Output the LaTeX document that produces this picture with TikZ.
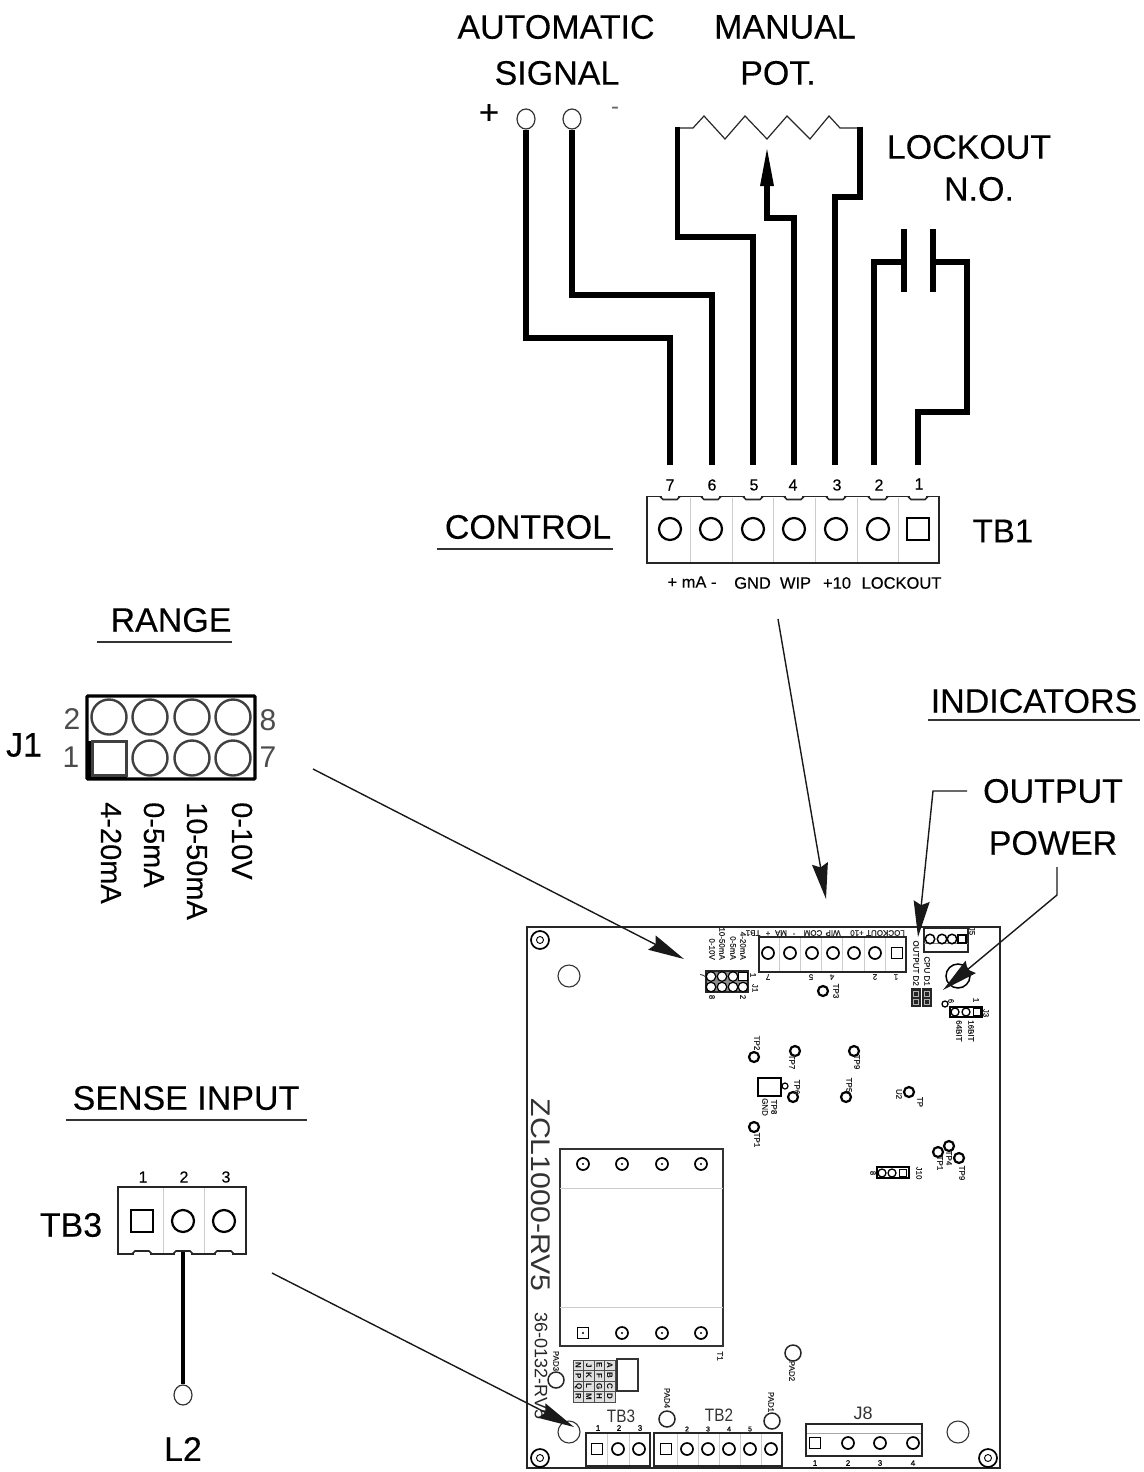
\documentclass[tikz,border=0pt]{standalone}
\usepackage{fontspec}
\usepackage{graphicx}
\setmainfont{Liberation Sans}
\newfontfamily\heavy[FakeBold=0.25]{Liberation Sans}
\newfontfamily\heavysm[FakeBold=0.5]{Liberation Sans}
\usetikzlibrary{arrows.meta}
\newcommand{\fsz}[1]{\fontsize{#1}{#1}\selectfont}
\newcommand{\notchmark}[3]{%
  \draw[white,line width=2pt] (#1-8,#2) -- (#1+8,#2);
  \draw[line width=1.6pt,black!85] (#1-10,#2) -- (#1-7,#2+#3) -- (#1+7,#2+#3) -- (#1+10,#2);}
\tikzset{
  biglab/.style={inner sep=0pt,font=\heavy\fsz{34}},
  midlab/.style={inner sep=0pt,font=\heavy\fsz{16.5}},
  numlab/.style={inner sep=0pt,font=\heavy\fsz{16}},
  jlab/.style={inner sep=0pt,font=\fsz{30},text=black!70},
  wire/.style={line width=5.2pt,miter limit=10},
  thinwire/.style={line width=1.2pt,black!85},
  leader/.style={line width=1.4pt,black!90,-{Stealth[length=36pt,width=16pt,inset=4pt]}},
  underl/.style={line width=1.3pt,black!80},
  rpin/.style={circle,draw,line width=2.2pt,minimum size=22pt,inner sep=0pt},
  spin/.style={rectangle,draw,line width=2.2pt,minimum size=22pt,inner sep=0pt},
  brpin/.style={circle,draw,line width=1.7pt,minimum size=12pt,inner sep=0pt},
  bspin/.style={rectangle,draw,line width=1.7pt,minimum size=11pt,inner sep=0pt},
  jpin/.style={circle,draw=black!75,line width=2.4pt,minimum size=35pt,inner sep=0pt},
  tpp/.style={circle,draw,line width=2.2pt,minimum size=10pt,inner sep=0pt},
  pad/.style={circle,draw=black!85,line width=1.5pt,minimum size=16pt,inner sep=0pt},
  hole/.style={circle,draw=black!80,line width=1.1pt,minimum size=22pt,inner sep=0pt},
  term/.style={ellipse,draw=black!80,line width=1.2pt,minimum width=18pt,minimum height=20pt,inner sep=0pt},
  pcb/.style={inner sep=0pt,font=\heavysm\fsz{8},rotate=-90,text=black!85},
  pcbr/.style={inner sep=0pt,font=\heavysm\fsz{8},rotate=180,text=black!85},
  block/.style={line width=1.8pt,black!85},
  div/.style={line width=.6pt,black!20},
}
\usetikzlibrary{shapes.geometric}
\begin{document}
\begin{tikzpicture}[x=1pt,y=-1pt]
\useasboundingbox (0,0) rectangle (1143,1472);
% --- Top labels
\node[biglab] (autoa) at (556,27) {AUTOMATIC};
\node[biglab] (autob) at (557,73) {SIGNAL};
\node[biglab] (mana) at (785,27) {MANUAL};
\node[biglab] (manb) at (778,73) {POT.};
\node[biglab] (locka) at (969,147) {LOCKOUT};
\node[biglab] (lockb) at (979,189) {N.O.};
\node[inner sep=0pt,font=\heavysm\fsz{34}] (plus) at (489,114) {+};
\node[inner sep=0pt,font=\fsz{24},text=black!60] (minus) at (615,111) {-};
% --- terminals of signal
\node[term] (sigp) at (526,119) {};
\node[term] (sigm) at (572,119) {};
\coordinate (w7) at (670,465);
\coordinate (w6) at (712,465);
\coordinate (w5) at (753,465);
\coordinate (w4) at (794,465);
\coordinate (w3) at (835,465);
\coordinate (w2) at (874,465);
\coordinate (w1) at (918,465);
\draw[wire] (sigp.south) -- (526,338) -- (670,338) -- (w7);
\draw[wire] (sigm.south) -- (572,295) -- (712,295) -- (w6);
% --- pot
\coordinate (potl) at (677,128);
\coordinate (potr) at (860,128);
\coordinate (wipt) at (767,149);
\draw[thinwire] (potl) -- (693,128) -- (704,116) -- (725,139) -- (745,116) -- (767,139) -- (787,116) -- (810,139) -- (829,116) -- (840,128) -- (potr);
\draw[wire] (677.3,126.5) -- (677.3,237) -- (753,237) -- (w5);
\draw[wire] (860,126.5) -- (860,197) -- (835,197) -- (w3);
\draw[wire] (w4) -- (794,218) -- (767,218) -- (767,186);
\fill (767,186) ++(-7,0) -- (wipt) -- (774,186) -- cycle;
% --- contact
\coordinate (cl) at (904,262);
\coordinate (cr) at (933,262);
\draw[line width=5.4pt] (904,229) -- (904,292);
\draw[line width=5.4pt] (933,229) -- (933,292);
\draw[wire] (cl) -- (874,262) -- (w2);
\draw[wire] (cr) -- (967,262) -- (967,412) -- (918,412) -- (w1);
% --- TB1
\node[biglab] (ctl) at (528,527) {CONTROL};
\draw[underl] (437,549) -- (613,549);
\node[biglab,font=\heavy\fsz{33}] (tbonel) at (1003,531) {TB1};
\draw[block] (647,496.5) rectangle (939,563);
\foreach \x in {690,732,773,815,857,898} \draw[div] (\x,498) -- (\x,562);
\foreach \x/\n/\nx in {670/7/670,711/6/712,753/5/754,794/4/793,836/3/837,878/2/879} {
  \node[rpin] (tb\n) at (\x,529) {};
  \node[numlab] (tbn\n) at (\nx,485) {\n};
  \notchmark{\x}{496.5}{3}
}
\node[spin] (tb1) at (918,529) {};
\node[numlab] (tbn1) at (919,484) {1};
\notchmark{918}{496.5}{3}
\node[midlab] (c1) at (692,582) {+ mA -};
\node[midlab] (c2) at (752.5,583) {GND};
\node[midlab] (c3) at (795.5,583) {WIP};
\node[midlab] (c4) at (837,583) {+10};
\node[midlab] (c5) at (901.5,583) {LOCKOUT};
% --- RANGE
\node[biglab] (rng) at (171,620) {RANGE};
\draw[underl] (97,642) -- (232,642);
\node[biglab] (jone) at (24,745) {J1};
\draw[line width=3.4pt,rounded corners=1pt] (87,696) rectangle (255,779);
\foreach \x/\n in {109/a,150/b,192/c,233/d} \node[jpin] (jt\n) at (\x,717) {};
\foreach \x/\n in {150/b,192/c,233/d} \node[jpin] (jb\n) at (\x,758) {};
\node[rectangle,draw=black!75,line width=2.4pt,minimum size=34pt,inner sep=0pt] (jba) at (109.5,758.5) {};
\draw[line width=3.6pt] (88,778.5) -- (127,778.5);
\draw[line width=3.6pt] (89,741) -- (89,779);
\node[jlab] (j2) at (72,719) {2};
\node[jlab] (j1) at (71,757) {1};
\node[jlab] (j8) at (268,720) {8};
\node[jlab] (j7) at (268,757) {7};
\foreach \x/\t/\n in {111/4-20mA/a,154/0-5mA/b,197/10-50mA/c,242/0-10V/d}
  \node[inner sep=0pt,font=\heavy\fsz{29},rotate=-90,anchor=west] (jr\n) at (\x,802) {\t};
% --- SENSE INPUT
\node[biglab] (sns) at (186,1098) {SENSE INPUT};
\draw[underl] (66,1120) -- (307,1120);
\node[biglab] (tbthree) at (71,1225) {TB3};
\draw[block] (118,1187) rectangle (246,1254);
\foreach \x in {163,204} \draw[div] (\x,1188) -- (\x,1253);
\node[spin] (s1) at (142,1221) {};
\node[rpin] (s2) at (183,1221) {};
\node[rpin] (s3) at (224,1221) {};
\node[numlab] (sn1) at (143,1177) {1};
\node[numlab] (sn2) at (184,1177) {2};
\node[numlab] (sn3) at (226,1177) {3};
\foreach \x in {142,183,224} {\notchmark{\x}{1254}{-3}}
\node[term] (ltwo) at (183,1395) {};
\coordinate (stb) at (183,1252);
\draw[line width=3.8pt] (stb) -- (ltwo.north);
\node[biglab] (ltwol) at (183,1449) {L2};
% --- INDICATORS
\node[biglab] (ind) at (1034,701) {INDICATORS};
\draw[underl] (928,720) -- (1140,720);
\node[biglab] (outl) at (1053,791) {OUTPUT};
\node[biglab] (powl) at (1053,843) {POWER};
% --- Board
\draw[line width=1.7pt,black!85] (527,927) rectangle (1000,1468);
\foreach \x/\y/\n in {540/940/a,540/1458/b,988/1458/c} {
  \node[circle,draw,line width=1.7pt,minimum size=18pt,inner sep=0pt] (mh\n) at (\x,\y) {};
  \node[circle,draw,line width=.9pt,minimum size=7pt,inner sep=0pt] (mi\n) at (mh\n) {};
}
\node[hole] (ha) at (569,976) {};
\node[hole] (hb) at (569,1432) {};
\node[hole] (hc) at (958,1432) {};
\node[inner sep=0pt,rotate=-90,font=\fsz{27},text=black!80] (zcl) at (541,1195) {\scalebox{1.12}[1]{ZCL1000-RV5}};
\node[inner sep=0pt,rotate=-90,font=\fsz{18},text=black!85] (rev) at (541,1366) {36-0132-RV5};
% T1
\draw[line width=1.4pt,black!80] (560,1149) rectangle (723,1346);
\draw[div] (560,1188) -- (723,1188);
\draw[div] (560,1307) -- (723,1307);
\foreach \x/\n in {583/a,622/b,662/c,701/d} {
  \node[brpin] (tt\n) at (\x,1164) {};
  \fill (\x,1164) circle (1.2pt);
}
\foreach \x/\n in {622/b,662/c,701/d} {
  \node[brpin] (tu\n) at (\x,1333) {};
  \fill (\x,1333) circle (1.2pt);
}
\node[bspin] (tua) at (583,1333) {};
\fill (583,1333) circle (1.2pt);
\node[pcb] (tone) at (720,1356) {T1};
% Board TB1
\draw[block,line width=1.2pt] (759,937) rectangle (906,972);
\foreach \x in {779,800,821,842,864,885} \draw[div] (\x,938) -- (\x,971);
\foreach \x/\n in {768/7,790/6,812/5,833/4,854/3,875/2} \node[brpin] (bt\n) at (\x,953) {};
\node[bspin] (bt1) at (897,953) {};
\foreach \x/\t/\n in {885.5/LOCKOUT/a,857/+10/b,833/WIP/c,813/COM/d,794/-/e,781/MA/f,768/+/g,753/TB1/h}
  \node[pcbr] (bl\n) at (\x,933) {\t};
\foreach \x/\t in {768/7,811/5,832/4,875/2,896/1}
  \node[pcbr] (bn\t) at (\x,977) {\t};
% board J1
\draw[line width=1.5pt,black!85,fill=black!45] (706,971) rectangle (748,992);
\foreach \x/\n in {711/a,722/b,733/c} {
  \node[circle,draw,fill=white,line width=1.2pt,minimum size=9.5pt,inner sep=0pt] (mj\n) at (\x,976.5) {};
}
\foreach \x/\n in {711/a,722/b,733/c,743/d} {
  \node[circle,draw,fill=white,line width=1.2pt,minimum size=9.5pt,inner sep=0pt] (mk\n) at (\x,987) {};
}
\node[rectangle,draw,fill=white,line width=1.2pt,minimum size=8.5pt,inner sep=0pt] (mjd) at (743,976.5) {};
\foreach \x/\t/\n in {712/0-10V/a,722/10-50mA/b,733/0-5mA/c,743/4-20mA/d}
  \node[pcb,anchor=east] (jl\n) at (\x,960) {\t};
\node[pcb] (ji7) at (703,975) {7};
\node[pcb] (ji1) at (753,975) {1};
\node[pcb] (ji) at (755,988) {J1};
\node[pcb] (ji8) at (712,997) {8};
\node[pcb] (ji2) at (743,997) {2};
% Test points
\foreach \x/\y/\lx/\ly/\t/\n in {823/991/836/991/TP3/a,754/1057/757/1043/TP2/b,795/1051/792/1062/TP7/c,854/1051/857/1062/TP9/d,793/1097/797/1087/TP6/e,846/1097/849/1085/TP5/f,754/1127/757/1140/TP1/g,909/1092/920/1102/TP/h,949/1146/949/1158/TP4/i,938/1152/940/1163/TP1/j,959/1158/962/1173/TP9/k} {
  \node[tpp] (tp\n) at (\x,\y) {};
  \node[pcb] (tl\n) at (\lx,\ly) {\t};
}
\node[pcb] (utwo) at (899,1094) {U2};
\draw[line width=1.9pt] (758,1078) rectangle (781,1096);
\node[circle,draw,line width=1.2pt,minimum size=6pt,inner sep=0pt] (gc) at (785,1086) {};
\node[pcb] (gnda) at (765,1107) {GND};
\node[pcb] (gndb) at (774,1107) {TP8};
% J10
\draw[line width=1.7pt] (877,1167) rectangle (909,1178);
\node[circle,draw,line width=1.3pt,minimum size=8pt,inner sep=0pt] (jta) at (882,1173) {};
\node[circle,draw,line width=1.3pt,minimum size=8pt,inner sep=0pt] (jtb) at (892,1173) {};
\node[rectangle,draw,line width=1.3pt,minimum size=7pt,inner sep=0pt] (jtc) at (903,1173) {};
\node[pcb] (jtl) at (919,1173) {J10};
\node[pcb] (jtq) at (873,1173) {8};
% LEDs
\foreach \x in {911,922} \fill[black!85] (\x,988) rectangle +(10,19);
\foreach \x in {916,927} {\draw[white!70!black,line width=.5pt] (\x-2.5,991) rectangle (\x+2.5,996); \draw[white!70!black,line width=.5pt] (\x-2.5,999) rectangle (\x+2.5,1004);}
\node[pcb,anchor=east] (ledb) at (916,986) {OUTPUT D2};
\node[pcb,anchor=east] (leda) at (927,986) {CPU D1};
% J5
\draw[line width=1.2pt,black!85] (924,928) rectangle (968,952);
\draw[div,black!50] (924,943) -- (968,943);
\foreach \x/\n in {930/a,942/b,952/c} \node[circle,draw,line width=1.5pt,minimum size=9.5pt,inner sep=0pt] (jf\n) at (\x,939) {};
\node[rectangle,draw,line width=1.5pt,minimum size=8pt,inner sep=0pt] (jfd) at (962,939) {};
\node[pcb] (jfl) at (972,931) {J5};
% Power LED
\node[circle,draw,line width=1.5pt,minimum size=24pt,inner sep=0pt] (pwr) at (958,976) {};
% J3
\draw[line width=1.7pt] (950,1007) rectangle (982,1017);
\node[circle,draw,line width=1.3pt,minimum size=8pt,inner sep=0pt] (jha) at (955,1012) {};
\node[circle,draw,line width=1.3pt,minimum size=8pt,inner sep=0pt] (jhb) at (966,1012) {};
\node[rectangle,draw,line width=1.3pt,minimum size=7pt,inner sep=0pt] (jhc) at (977,1012) {};
\node[circle,draw,line width=1.3pt,minimum size=6pt,inner sep=0pt] (jhd) at (945,1004) {};
\node[pcb] (jh6) at (951,1001) {6};
\node[pcb] (jh1) at (976,1000) {1};
\node[pcb] (jhj) at (986,1013) {J3};
\node[pcb,anchor=west] (jh16) at (971,1020) {16BIT};
\node[pcb,anchor=west] (jh64) at (959,1020) {64BIT};
% Pads
\foreach \x/\y/\lx/\ly/\t/\n in {556/1380/556/1361/PAD3/a,793/1353/792/1371/PAD2/b,667/1419/667/1398/PAD4/c,772/1421/771/1402/PAD1/d} {
  \node[pad] (pd\n) at (\x,\y) {};
  \node[pcb] (pl\n) at (\lx,\ly) {\t};
}
% matrix
\foreach \x/\lst/\n in {573/{N,P,Q,R}/a,583.5/{J,K,L,M}/b,594/{E,F,G,H}/c,604.5/{A,B,C,D}/d} {
  \foreach \t [count=\i from 0] in \lst {
    \node[rectangle,draw=black!70,fill=black!12,line width=1pt,minimum size=10.5pt,inner sep=0pt,font=\fsz{8}\bfseries] (m\n\i) at (\x+5.25,1360+\i*10.5+5.25) {\rotatebox{-90}{\t}};
  }
}
\draw[line width=1.3pt,black!80] (617,1359) rectangle (638,1391);
% Board TB3
\draw[block,line width=1.2pt] (586,1433) rectangle (650,1466);
\foreach \x in {607,629} \draw[div] (\x,1434) -- (\x,1465);
\node[bspin] (b3a) at (597,1449) {};
\node[brpin] (b3b) at (618,1449) {};
\node[brpin] (b3c) at (639,1449) {};
\node[inner sep=0pt,font=\heavysm\fsz{8}] (b3n1) at (598,1428) {1};
\node[inner sep=0pt,font=\heavysm\fsz{8}] (b3n2) at (619,1428) {2};
\node[inner sep=0pt,font=\heavysm\fsz{8}] (b3n3) at (640,1428) {3};
\node[inner sep=0pt,font=\fsz{18},text=black!80] (b3l) at (621,1416) {\scalebox{.85}[1]{TB3}};
% Board TB2
\draw[block,line width=1.2pt] (654,1433) rectangle (782,1466);
\foreach \x in {677,698,719,740,761} \draw[div] (\x,1434) -- (\x,1465);
\node[bspin] (b2a) at (666,1449) {};
\foreach \x/\n in {687/b,708/c,729/d,750/e,771/f} \node[brpin] (b2\n) at (\x,1449) {};
\foreach \x/\t/\n in {687/2/b,708/3/c,729/4/d,750/5/e} \node[inner sep=0pt,font=\heavysm\fsz{7}] (b2n\n) at (\x,1429) {\t};
\node[inner sep=0pt,font=\fsz{18},text=black!80] (b2l) at (719,1415) {\scalebox{.85}[1]{TB2}};
% J8
\draw[block,line width=1.2pt] (806,1424) rectangle (922,1456);
\draw[div,black!35] (807,1433) -- (921,1433);
\node[bspin] (j8a) at (815,1443) {};
\foreach \x/\n in {848/b,880/c,913/d} \node[brpin] (j8\n) at (\x,1443) {};
\foreach \x/\t/\n in {815/1/a,848/2/b,880/3/c,913/4/d} \node[inner sep=0pt,font=\heavysm\fsz{8}] (j8n\n) at (\x,1463) {\t};
\node[inner sep=0pt,font=\fsz{18},text=black!80] (j8l) at (863,1413) {J8};
% --- Leaders
\coordinate (la) at (313,769); \coordinate (lb) at (684,959);
\coordinate (lc) at (778,619); \coordinate (ld) at (826,899);
\coordinate (le) at (272,1273); \coordinate (lf) at (574,1427);
\coordinate (lg) at (967,791); \coordinate (lh) at (918,937);
\coordinate (li) at (1057,867); \coordinate (lj) at (943,990);
\draw[leader] (la) -- (lb);
\draw[leader] (lc) -- (ld);
\draw[leader] (le) -- (lf);
\draw[leader] (lg) -- (933,791) -- (lh);
\draw[leader] (li) -- (1057,895) -- (lj);
\end{tikzpicture}
\end{document}
